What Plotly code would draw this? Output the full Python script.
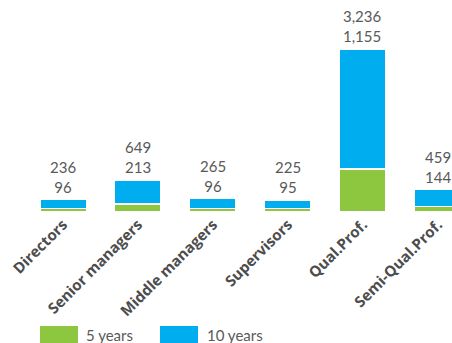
import plotly.graph_objects as go

categories = ["Directors", "Senior managers", "Middle managers", "Supervisors", "Qual.Prof.", "Semi-Qual.Prof."]
five_years = [96, 213, 96, 95, 1155, 144]
ten_years = [236, 649, 265, 225, 3236, 459]

GREEN = "#8DC63F"
BLUE = "#00AEEF"
TXT = "#595959"
FONT = "Lato"

fig = go.Figure()
fig.add_trace(go.Bar(x=categories, y=five_years, name="5 years", marker=dict(color=GREEN, line=dict(color="white", width=1.5)), width=0.62))
fig.add_trace(go.Bar(x=categories, y=ten_years, name="10 years", marker=dict(color=BLUE, line=dict(color="white", width=1.5)), width=0.62))

annotations = []
for c, f, t in zip(categories, five_years, ten_years):
    annotations.append(dict(x=c, y=f + t, xref="x", yref="y", text=f"{t:,}<br>{f:,}", showarrow=False,
                            yanchor="bottom", yshift=2, font=dict(family=FONT, size=15, color=TXT)))

H, B, T = 343, 131, 10
ph = H - B - T
def py(Y):
    return (H - B - Y) / ph

shapes = []
legend_items = [("5 years", GREEN, 40, 84), ("10 years", BLUE, 160, 205)]
for name, col, x0, tx in legend_items:
    shapes.append(dict(type="rect", xref="paper", yref="paper", x0=x0 / 452, x1=(x0 + 38) / 452,
                       y0=py(343), y1=py(326), fillcolor=col, line=dict(width=0)))
    annotations.append(dict(x=tx / 452, y=py(334.5), xref="paper", yref="paper", text=name, showarrow=False,
                            xanchor="left", yanchor="middle", font=dict(family=FONT, size=15, color=TXT)))

fig.update_layout(
    barmode="stack",
    width=452, height=343,
    margin=dict(l=0, r=0, t=T, b=B, autoexpand=False),
    paper_bgcolor="white", plot_bgcolor="white",
    showlegend=False,
    xaxis=dict(range=[-0.84, 5.187], tickangle=-45, showgrid=False, zeroline=False, showline=False,
               automargin=False, ticklabelstandoff=0,
               tickfont=dict(family="Open Sans", size=15, color="#4d4d4d", weight="bold"), ticks=""),
    yaxis=dict(range=[0, 202 / (163 / 4391)], visible=False, showgrid=False, automargin=False),
    annotations=annotations,
    shapes=shapes,
)

fig.write_html("out.html", config={"displayModeBar": False},
               post_script="document.body.style.margin='0';document.body.style.overflow='hidden';")
